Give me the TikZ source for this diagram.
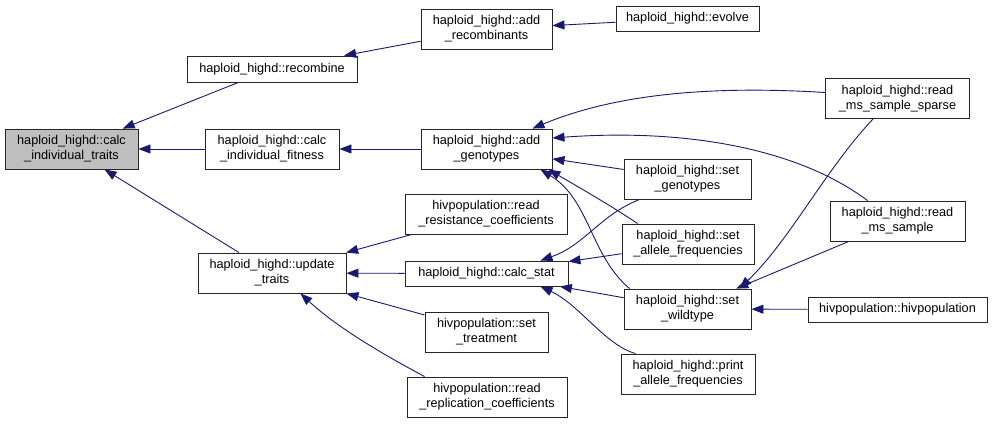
\documentclass[tikz,border=0pt]{standalone}
\usepackage{fontspec}
\setmainfont{Liberation Sans}
\usetikzlibrary{arrows.meta,calc}
\definecolor{edgeblue}{RGB}{25,25,112}
\definecolor{rootgray}{RGB}{191,191,191}
\begin{document}
\begin{tikzpicture}[x=1pt,y=-1pt,
  fn/.style={draw=black!85, line width=0.9pt, fill=white, align=center, inner sep=0pt,
    font=\fontsize{12.7}{15}\selectfont},
  two/.style={minimum height=40pt},
  one/.style={minimum height=25pt},
  calls/.style={draw=edgeblue, line width=0.9pt, -{Triangle[length=12pt,width=9pt]}}]
\useasboundingbox (0,0) rectangle (992,423);
% column 1
\node[fn, two, fill=rootgray, minimum width=133pt] (cit) at (71.5,149) {haploid\_highd::calc\\\_individual\_traits};
% column 2
\node[fn, minimum height=26pt, minimum width=170pt] (rec) at (272,69) {haploid\_highd::recombine};
\node[fn, two, minimum width=134pt] (cif) at (272,149) {haploid\_highd::calc\\\_individual\_fitness};
\node[fn, two, minimum width=148pt] (upd) at (272,273) {haploid\_highd::update\\\_traits};
% column 3
\node[fn, two, minimum width=131pt] (addrec) at (486.5,29) {haploid\_highd::add\\\_recombinants};
\node[fn, two, minimum width=131pt] (addgen) at (486.5,149) {haploid\_highd::add\\\_genotypes};
\node[fn, two, minimum width=162pt] (rrc) at (486,214) {hivpopulation::read\\\_resistance\_coefficients};
\node[fn, one, minimum width=163pt] (cstat) at (486.5,273.5) {haploid\_highd::calc\_stat};
\node[fn, two, minimum width=123pt] (strt) at (486.5,332) {hivpopulation::set\\\_treatment};
\node[fn, two, minimum width=160pt] (rrep) at (487,397) {hivpopulation::read\\\_replication\_coefficients};
% column 4
\node[fn, one, minimum width=143pt] (evo) at (687.5,18.5) {haploid\_highd::evolve};
\node[fn, two, minimum width=127pt] (sgen) at (687.5,179) {haploid\_highd::set\\\_genotypes};
\node[fn, two, minimum width=132pt] (sall) at (688,244) {haploid\_highd::set\\\_allele\_frequencies};
\node[fn, two, minimum width=127pt] (swt) at (687.5,309) {haploid\_highd::set\\\_wildtype};
\node[fn, two, minimum width=134pt] (pall) at (688,374) {haploid\_highd::print\\\_allele\_frequencies};
% column 5
\node[fn, two, minimum width=144pt] (sparse) at (897.5,98.5) {haploid\_highd::read\\\_ms\_sample\_sparse};
\node[fn, two, minimum width=135pt] (rms) at (897.5,221) {haploid\_highd::read\\\_ms\_sample};
\node[fn, one, minimum width=179pt] (hiv) at (897.5,309.5) {hivpopulation::hivpopulation};
% straight connectors
\draw[calls] (rec) -- (cit);
\draw[calls] (cif) -- (cit);
\draw[calls] (upd) -- (cit);
\draw[calls] (addrec) -- (rec);
\draw[calls] (evo) -- (addrec);
\draw[calls] (addgen) -- (cif);
\draw[calls] (sgen) -- (addgen);
\draw[calls] (rrc) -- (upd);
\draw[calls] (cstat) -- (upd);
\draw[calls] (strt) -- (upd);
\draw[calls] (sall) -- (cstat);
\draw[calls] (swt) -- (cstat);
\draw[calls] (rms) -- (swt);
\draw[calls] (hiv) -- (swt);
% curved connectors
\draw[calls] ($(sparse.west)+(0,-6)$) .. controls (720,86) and (620,92) .. ($(addgen.north east)+(-20,0)$);
\draw[calls] ($(rms.north west)+(38,0)$) .. controls (800,150) and (690,128) .. ($(addgen.east)+(0,-11)$);
\draw[calls] ($(sall.north west)+(16,0)$) .. controls (610,205) and (575,185) .. ($(addgen.south east)+(-4,0)$);
\draw[calls] ($(swt.north west)+(6,0)$) .. controls (590,255) and (590,200) .. ($(addgen.south east)+(-12,0)$);
\draw[calls] ($(rrep.north west)+(18,0)$) .. controls (390,358) and (340,330) .. ($(upd.south east)+(-46,0)$);
\draw[calls] ($(sgen.south west)+(16,0)$) .. controls (600,215) and (585,245) .. ($(cstat.north east)+(-28,0)$);
\draw[calls] ($(pall.north west)+(15,0)$) .. controls (605,345) and (580,305) .. ($(cstat.south east)+(-28,0)$);
\draw[calls] ($(sparse.south west)+(48,0)$) .. controls (825,170) and (790,240) .. ($(swt.north east)+(-12,0)$);
\end{tikzpicture}
\end{document}
